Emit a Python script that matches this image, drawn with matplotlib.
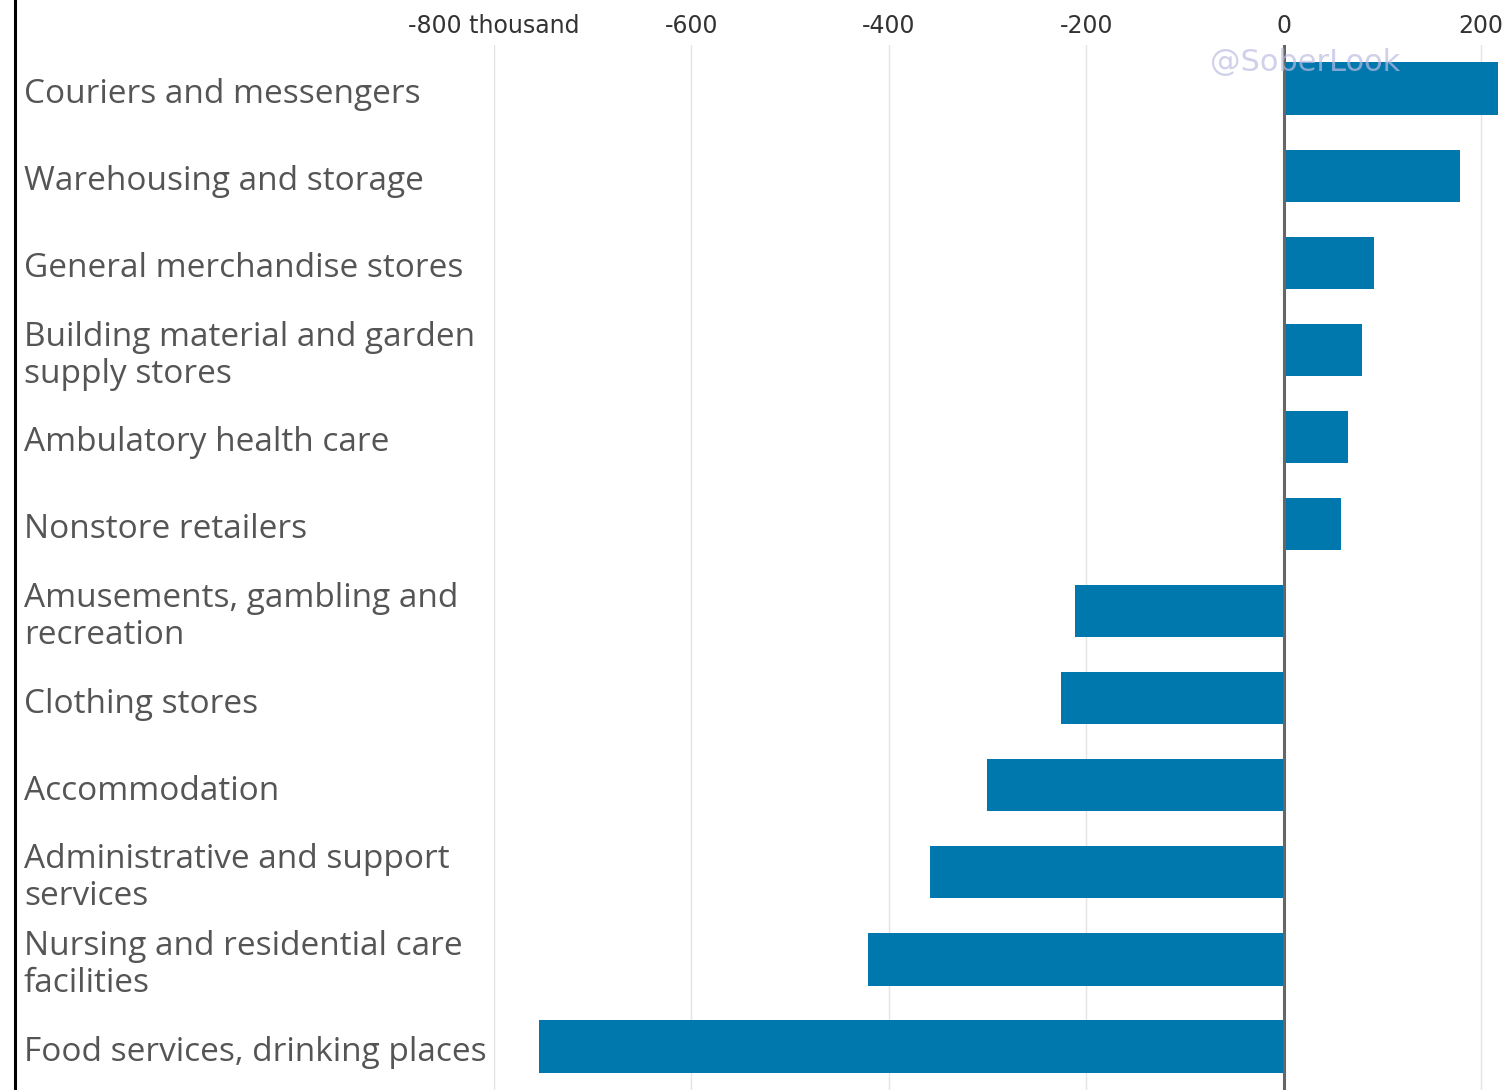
"""
Job changes by industry, horizontal bars (thousand).
"""
import matplotlib
matplotlib.use("Agg")
import matplotlib.pyplot as plt
import matplotlib.transforms as mtransforms
from matplotlib.lines import Line2D

categories = [
    "Couriers and messengers",
    "Warehousing and storage",
    "General merchandise stores",
    "Building material and garden\nsupply stores",
    "Ambulatory health care",
    "Nonstore retailers",
    "Amusements, gambling and\nrecreation",
    "Clothing stores",
    "Accommodation",
    "Administrative and support\nservices",
    "Nursing and residential care\nfacilities",
    "Food services, drinking places",
]
values = [217, 179, 91, 79, 65, 58, -211, -226, -301, -358, -421, -754]

tick_values = [-800, -600, -400, -200, 0, 200]
tick_labels = ["-800 thousand", "-600", "-400", "-200", "0", "200"]

bar_color = "#0077ad"
text_color = "#555555"

W, H = 1504, 1090
fig = plt.figure(figsize=(W / 100, H / 100), dpi=100)
ax = fig.add_axes([494 / W, 0, (1499 - 494) / W, 1 - 45 / H])

ypos = list(range(len(categories)))
ax.barh(ypos, values, height=0.6, color=bar_color, zorder=2)
ax.set_xlim(-800, 218)
ax.set_ylim(len(categories) - 0.5, -0.5)

# eje superior
ax.xaxis.tick_top()
ax.set_xticks(tick_values)
ax.set_xticklabels(tick_labels, fontsize=17, color="#333333",
                   family=["Liberation Sans Narrow", "DejaVu Sans"])
ax.tick_params(axis="x", length=0, pad=5)
ax.set_yticks([])
ax.grid(axis="x", color="#e4e4e4", linewidth=1, zorder=0)
ax.axvline(0, color="#666666", linewidth=2.2, zorder=3)
for s in ax.spines.values():
    s.set_visible(False)

# etiquetas de categorias alineadas a la izquierda (un poco bajo el centro)
trans = mtransforms.blended_transform_factory(fig.transFigure, ax.transData)
trans = trans + mtransforms.ScaledTranslation(0, -6 / 100, fig.dpi_scale_trans)
for y, lab in zip(ypos, categories):
    ax.text(24 / W, y, lab, transform=trans, ha="left", va="center",
            fontsize=24, color=text_color, family="Open Sans",
            linespacing=1.17)

# borde izquierdo
fig.add_artist(Line2D([15 / W, 15 / W], [0, 1], color="black", linewidth=2.2,
                      transform=fig.transFigure))

# marca de agua
fig.text(1305 / W, 1 - 63 / H, "@SoberLook", ha="center", va="center",
         fontsize=22, color="#bcbce2", alpha=0.7, zorder=5)

fig.savefig("out.png", dpi=100)
plt.close(fig)
